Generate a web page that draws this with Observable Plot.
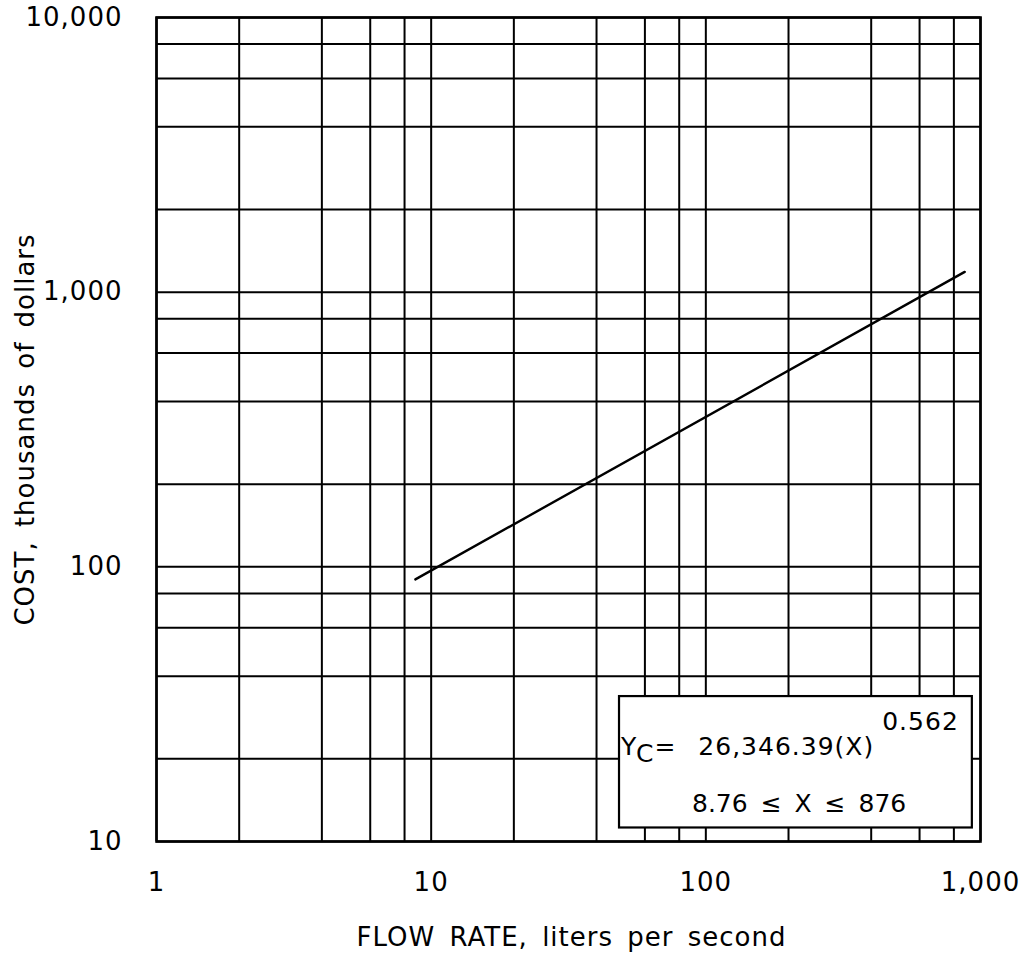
<!DOCTYPE html>
<html>
<head>
<meta charset="utf-8">
<script src="https://cdn.jsdelivr.net/npm/d3@7"></script>
<script src="https://cdn.jsdelivr.net/npm/@observablehq/plot@0.6"></script>
<style>
  html, body { margin: 0; padding: 0; background: #fff; }
  #chart svg { display: block; }
</style>
</head>
<body>
<div id="chart"></div>
<script>
// ---- data ----
const xTicks = [1, 10, 100, 1000];
const yTicks = [10, 100, 1000, 10000];
const xGrid = [1, 2, 4, 6, 8, 10, 20, 40, 60, 80, 100, 200, 400, 600, 800, 1000];
const yGrid = [10, 20, 40, 60, 80, 100, 200, 400, 600, 800, 1000, 2000, 4000, 6000, 8000, 10000];
const fitX = [8.76, 876];          // flow rate, L/s
const fitY = [90, 1185];           // cost, thousands of dollars
const noteBox = [{x1: 48.5, x2: 934, y1: 11.2, y2: 33.7}];
const xLabel = "FLOW RATE, liters per second";
const yLabel = "COST, thousands of dollars";
const eqLead = "Y", eqSub = "C", eqMain = "=", eqCoef = "26,346.39(X)", eqExp = "0.562";
const rangeText = "8.76 \u2264 X \u2264 876";

const fit = fitX.map((x, i) => ({x, y: fitY[i]}));
const fmt = d3.format(",");
const FONT = "'DejaVu Sans', sans-serif";

const chart = Plot.plot({
  width: 1024,
  height: 957,
  marginLeft: 156,
  marginRight: 44,
  marginTop: 17,
  marginBottom: 116,
  x: {type: "log", domain: [1, 1000]},
  y: {type: "log", domain: [10, 10000]},
  style: {
    fontFamily: FONT,
    fontSize: "26px",
    letterSpacing: "1px",
    wordSpacing: "5px",
    color: "black",
    background: "white"
  },
  marks: [
    Plot.ruleX(xGrid, {stroke: "black", strokeWidth: 2}),
    Plot.ruleY(yGrid, {stroke: "black", strokeWidth: 2}),
    Plot.rect(noteBox, {x1: "x1", x2: "x2", y1: "y1", y2: "y2", fill: "white", stroke: "black", strokeWidth: 2.2}),
    Plot.line(fit, {x: "x", y: "y", stroke: "black", strokeWidth: 2.4}),
    Plot.frame({stroke: "black", strokeWidth: 2.6}),
    Plot.axisX(xTicks, {tickSize: 0, tickPadding: 31, tickFormat: fmt, label: null, fontSize: 26}),
    Plot.axisY(yTicks, {tickSize: 0, tickPadding: 34, tickFormat: fmt, label: null, fontSize: 26}),
    Plot.text([xLabel], {frameAnchor: "bottom", textAnchor: "middle", dy: 96, dx: 3, lineAnchor: "middle", fontSize: 26, fill: "black"}),
    Plot.text([yLabel], {frameAnchor: "left", textAnchor: "middle", rotate: -90, dx: -131, lineAnchor: "middle", fontSize: 26, fill: "black"})
  ]
});

document.getElementById("chart").appendChild(chart);

// Equation annotation (rich text with sub/superscript) positioned via the plot's scales
const sx = chart.scale("x"), sy = chart.scale("y");
const bx = sx.apply(noteBox[0].x1), btop = sy.apply(noteBox[0].y2);
const svg = d3.select(chart);
const t1 = svg.append("text")
  .attr("x", bx + 2).attr("y", btop + 59)
  .attr("text-anchor", "start")
  .attr("font-family", FONT)
  .attr("font-size", 25).attr("letter-spacing", "1px").attr("word-spacing", "0px").attr("fill", "black");
t1.append("tspan").text(eqLead);
t1.append("tspan").attr("dy", 7).attr("dx", 0).text(eqSub);
t1.append("tspan").attr("dy", -7).attr("dx", 0).text(eqMain);
t1.append("tspan").attr("dx", 22).text(eqCoef);
t1.append("tspan").attr("dy", -25).attr("dx", 8).text(eqExp);

svg.append("text")
  .attr("x", bx + 73).attr("y", btop + 116)
  .attr("text-anchor", "start")
  .attr("font-family", FONT)
  .attr("font-size", 25).attr("letter-spacing", "0px").attr("word-spacing", "5px").attr("fill", "black")
  .text(rangeText);
</script>
</body>
</html>
